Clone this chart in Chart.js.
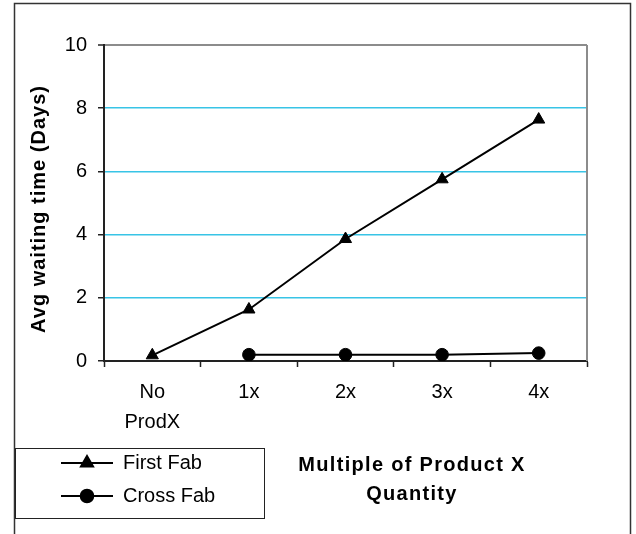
<!DOCTYPE html>
<html>
<head>
<meta charset="utf-8">
<script src="https://cdn.jsdelivr.net/npm/chart.js@4/dist/chart.umd.min.js"></script>
<style>
  html, body { margin: 0; padding: 0; background: #fff; }
  #wrap { width: 636px; height: 534px; position: relative; }
</style>
</head>
<body>
<div id="wrap"><canvas id="c" width="636" height="534"></canvas></div>
<script>
// Categories and series values
const categories = [['No', 'ProdX'], '1x', '2x', '3x', '4x'];
const firstFab = [0.18, 1.63, 3.86, 5.75, 7.64];
const crossFab = [null, 0.2, 0.2, 0.2, 0.25];
const yTicks = [0, 2, 4, 6, 8, 10];

const seriesNames = ['First Fab', 'Cross Fab'];
const yTitle = 'Avg waiting time (Days)';
const xTitle = ['Multiple of Product X', 'Quantity'];

const FONT = '"Liberation Sans", Arial, sans-serif';

// Frame, plot border, axis titles and legend box
const decorations = {
  id: 'decorations',
  beforeDraw(chart) {
    const ctx = chart.ctx;
    ctx.save();
    ctx.fillStyle = '#fff';
    ctx.fillRect(0, 0, chart.width, chart.height);
    ctx.strokeStyle = '#333';
    ctx.lineWidth = 1.5;
    ctx.strokeRect(14.5, 3.5, 616, 560);
    ctx.restore();
  },
  afterDraw(chart) {
    const ctx = chart.ctx;
    const a = chart.chartArea;
    ctx.save();
    // right edge of the plot area
    ctx.strokeStyle = '#8c8c8c';
    ctx.lineWidth = 2;
    ctx.beginPath();
    ctx.moveTo(a.right, a.top);
    ctx.lineTo(a.right, a.bottom);
    ctx.stroke();

    // y axis title
    ctx.fillStyle = '#000';
    ctx.font = 'bold 20px ' + FONT;
    ctx.letterSpacing = '1px';
    ctx.textAlign = 'center';
    ctx.textBaseline = 'middle';
    ctx.translate(39, 209);
    ctx.rotate(-Math.PI / 2);
    ctx.fillText(yTitle, 0, 0);
    ctx.restore();

    // x axis title
    ctx.save();
    ctx.fillStyle = '#000';
    ctx.font = 'bold 20px ' + FONT;
    ctx.letterSpacing = '1.3px';
    ctx.textAlign = 'center';
    ctx.textBaseline = 'middle';
    ctx.fillText(xTitle[0], 412, 465);
    ctx.fillText(xTitle[1], 412, 494);
    ctx.restore();

    // legend
    ctx.save();
    ctx.strokeStyle = '#222';
    ctx.lineWidth = 1;
    ctx.strokeRect(15.5, 448.5, 249, 70);
    chart.data.datasets.forEach((ds, i) => {
      const y = 463 + i * 33;
      ctx.strokeStyle = ds.borderColor;
      ctx.lineWidth = ds.borderWidth;
      ctx.beginPath();
      ctx.moveTo(61, y);
      ctx.lineTo(113, y);
      ctx.stroke();
      Chart.helpers.drawPoint(ctx, {
        pointStyle: ds.pointStyle,
        radius: ds.pointRadius,
        rotation: 0,
        borderWidth: 1
      }, 87, y);
      ctx.fillStyle = '#000';
      ctx.fill();
      ctx.font = '20px ' + FONT;
      ctx.textAlign = 'left';
      ctx.textBaseline = 'middle';
      ctx.fillText(ds.label, 123, y);
    });
    ctx.restore();
  }
};

new Chart(document.getElementById('c'), {
  type: 'line',
  data: {
    labels: categories,
    datasets: [
      {
        label: seriesNames[0],
        data: firstFab,
        borderColor: '#000',
        backgroundColor: '#000',
        borderWidth: 2,
        pointStyle: 'triangle',
        pointRadius: 7,
        pointBorderWidth: 1,
        tension: 0
      },
      {
        label: seriesNames[1],
        data: crossFab,
        borderColor: '#000',
        backgroundColor: '#000',
        borderWidth: 2,
        pointStyle: 'circle',
        pointRadius: 6.3,
        pointBorderWidth: 1,
        tension: 0
      }
    ]
  },
  options: {
    responsive: false,
    animation: false,
    events: [],
    layout: { padding: { left: 0, right: 49, top: 45, bottom: 0 } },
    plugins: {
      legend: { display: false },
      tooltip: { enabled: false }
    },
    scales: {
      x: {
        offset: true,
        grid: {
          offset: true,
          drawOnChartArea: false,
          drawTicks: true,
          tickLength: 6,
          tickColor: '#222',
          tickWidth: 1.5
        },
        border: { color: '#222', width: 2 },
        ticks: {
          color: '#000',
          font: { family: FONT, size: 20, lineHeight: 1.5 },
          padding: 10,
          maxRotation: 0,
          autoSkip: false
        },
        afterFit(scale) { scale.height = 173; }
      },
      y: {
        min: 0,
        max: 10,
        afterBuildTicks(scale) { scale.ticks = yTicks.map(v => ({ value: v })); },
        grid: {
          color: (c) => c.tick.value === 0 ? 'rgba(0,0,0,0)' : (c.tick.value === 10 ? '#8c8c8c' : '#38c4e6'),
          lineWidth: (c) => c.tick.value === 10 ? 2 : 1.5,
          drawTicks: true,
          tickLength: 6,
          tickColor: '#222',
          tickWidth: 1.5
        },
        border: { color: '#222', width: 2 },
        ticks: {
          color: '#000',
          font: { family: FONT, size: 20 },
          padding: 11
        },
        afterFit(scale) { scale.width = 104; }
      }
    }
  },
  plugins: [decorations]
});
</script>
</body>
</html>
